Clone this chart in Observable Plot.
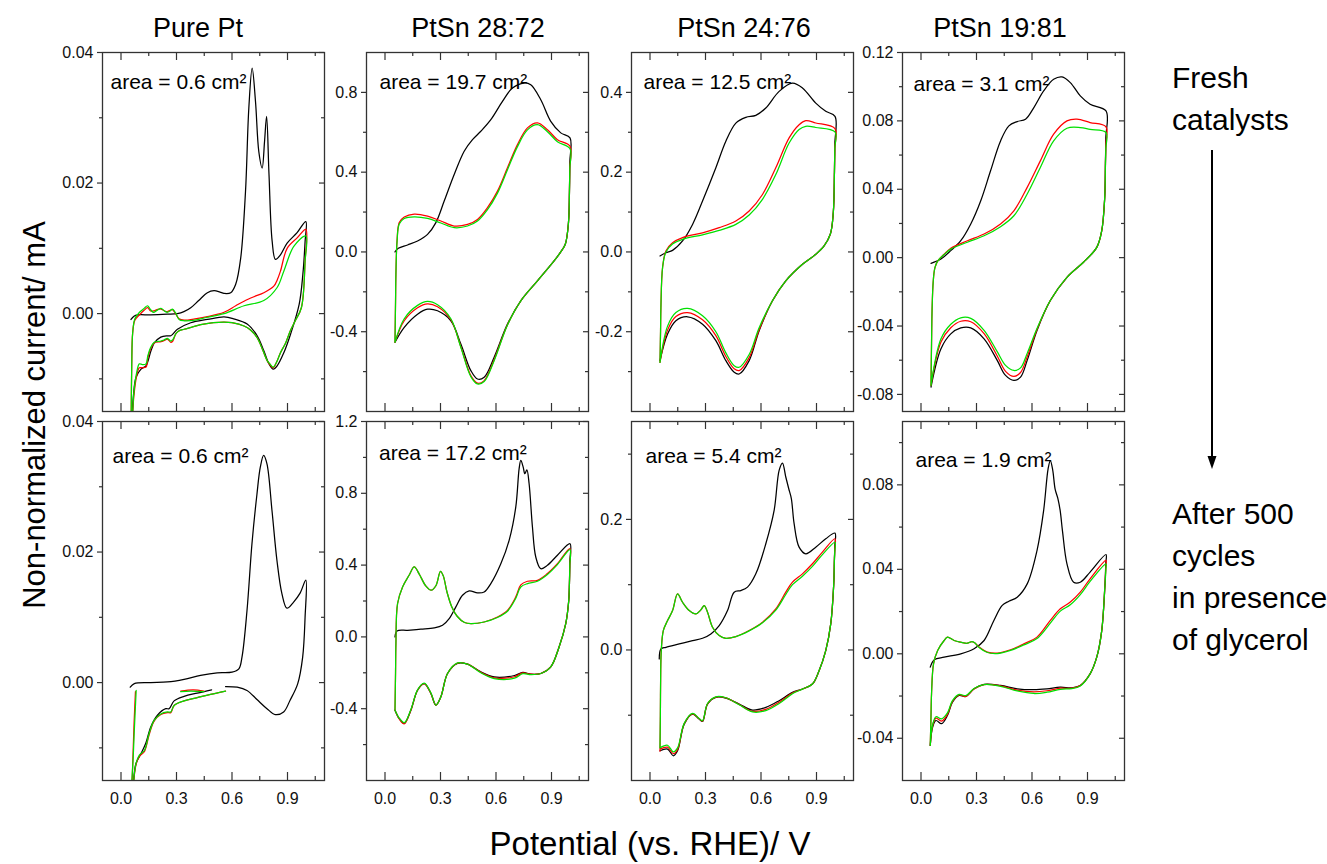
<!DOCTYPE html>
<html><head><meta charset="utf-8">
<script src="https://cdn.jsdelivr.net/npm/d3@7"></script>
<script src="https://cdn.jsdelivr.net/npm/@observablehq/plot@0.6"></script>
<style>
body{margin:0;background:#fff;}
#wrap{position:relative;width:1327px;height:864px;overflow:hidden;font-family:"Liberation Sans",Arial,sans-serif;background:#fff;}
</style></head><body><div id="wrap"></div>
<script>
// ---------- data: [potential V, current mA] ----------
// Pure Pt, fresh
const ptFreshK = [[0.054,-0.0009],[0.07,-0.0004],[0.09,-0.0002],[0.16,-0.0002],[0.25,-0.0001],[0.305,0],[0.34,0.0003],[0.377,0.0009],[0.42,0.002],[0.467,0.0032],[0.503,0.0035],[0.535,0.0033],[0.557,0.0031],[0.593,0.0032],[0.62,0.0045],[0.647,0.0085],[0.673,0.0187],[0.691,0.0315],[0.709,0.0376],[0.727,0.0325],[0.745,0.0248],[0.763,0.0223],[0.776,0.0264],[0.787,0.0302],[0.8,0.0213],[0.817,0.0111],[0.835,0.0083],[0.862,0.009],[0.898,0.0108],[0.952,0.0124],[0.999,0.0141],
  [0.995,0.011],[0.983,0.006],[0.963,0.0014],[0.916,-0.0032],[0.88,-0.006],[0.844,-0.008],[0.823,-0.0085],[0.8,-0.0077],[0.772,-0.0057],[0.736,-0.0034],[0.682,-0.0016],[0.61,-0.0008],[0.557,-0.0005],[0.467,-0.0009],[0.377,-0.0014],[0.305,-0.0024],[0.269,-0.0034],[0.25,-0.0034],[0.215,-0.0036],[0.18,-0.0045],[0.162,-0.0057],[0.135,-0.008],[0.108,-0.0085],[0.081,-0.0098],[0.068,-0.0123],[0.06,-0.016]];
const ptFreshR = [[0.055,-0.016],[0.058,-0.008],[0.063,-0.003],[0.075,-0.001],[0.1,-0.0002],[0.125,0.0005],[0.144,0.0009],[0.16,0.0004],[0.175,0.0004],[0.195,0.0006],[0.216,0.0007],[0.235,0.0004],[0.25,0.0003],[0.265,0.0005],[0.278,0.0006],[0.295,0.0],[0.314,-0.0008],[0.341,-0.001],[0.4,-0.0008],[0.46,-0.0005],[0.557,0.0002],[0.62,0.0012],[0.665,0.0019],[0.72,0.0026],[0.772,0.0032],[0.826,0.0042],[0.845,0.0052],[0.862,0.0065],[0.898,0.01],[0.952,0.0116],[0.999,0.0129],
  [0.995,0.008],[0.975,0.0009],[0.94,-0.0012],[0.916,-0.0026],[0.89,-0.0045],[0.862,-0.006],[0.84,-0.0075],[0.823,-0.0083],[0.805,-0.0078],[0.79,-0.0072],[0.765,-0.0055],[0.736,-0.0037],[0.7,-0.0025],[0.665,-0.0019],[0.6,-0.0014],[0.557,-0.0013],[0.5,-0.0014],[0.431,-0.0017],[0.38,-0.0021],[0.341,-0.0024],[0.31,-0.0027],[0.296,-0.0031],[0.28,-0.0042],[0.269,-0.0044],[0.251,-0.0039],[0.235,-0.0041],[0.216,-0.0043],[0.18,-0.0045],[0.16,-0.0054],[0.145,-0.0068],[0.135,-0.0082],[0.115,-0.0083],[0.099,-0.0083],[0.085,-0.0095],[0.07,-0.0125],[0.062,-0.016]];
const ptFreshG = [[0.055,-0.016],[0.058,-0.008],[0.063,-0.003],[0.075,-0.0008],[0.1,0.0002],[0.125,0.0008],[0.144,0.0012],[0.16,0.0006],[0.175,0.0002],[0.195,0.0005],[0.216,0.0008],[0.235,0.0004],[0.25,0.0002],[0.265,0.0004],[0.278,0.0007],[0.295,0.0001],[0.314,-0.0009],[0.341,-0.0011],[0.4,-0.001],[0.46,-0.0006],[0.557,0.0],[0.665,0.0012],[0.772,0.002],[0.844,0.004],[0.88,0.0065],[0.934,0.0103],[0.999,0.0119],
  [0.995,0.008],[0.975,0.0009],[0.94,-0.0012],[0.916,-0.0026],[0.89,-0.0045],[0.862,-0.006],[0.84,-0.0075],[0.823,-0.0082],[0.805,-0.0077],[0.79,-0.0072],[0.765,-0.0055],[0.736,-0.0037],[0.7,-0.0025],[0.665,-0.0019],[0.6,-0.0014],[0.557,-0.0013],[0.5,-0.0014],[0.431,-0.0017],[0.38,-0.0021],[0.341,-0.0024],[0.31,-0.0027],[0.296,-0.0031],[0.28,-0.004],[0.269,-0.0042],[0.251,-0.0038],[0.235,-0.004],[0.216,-0.0042],[0.18,-0.0044],[0.16,-0.0052],[0.145,-0.0065],[0.135,-0.0077],[0.115,-0.0078],[0.099,-0.0077],[0.085,-0.009],[0.07,-0.012],[0.062,-0.016]];

// PtSn 28:72, fresh
const sn28FreshK = [[0.054,0.0],[0.072,0.018],[0.122,0.035],[0.176,0.055],[0.23,0.088],[0.275,0.147],[0.32,0.255],[0.374,0.388],[0.428,0.505],[0.473,0.563],[0.518,0.605],[0.572,0.663],[0.635,0.755],[0.689,0.822],[0.752,0.847],[0.788,0.838],[0.842,0.763],[0.896,0.655],[0.95,0.597],[1.0,0.572],
  [0.999,0.45],[0.997,0.3],[0.992,0.15],[0.975,0.04],[0.95,0.0],[0.914,-0.045],[0.824,-0.145],[0.734,-0.245],[0.662,-0.362],[0.59,-0.528],[0.536,-0.628],[0.5,-0.637],[0.464,-0.595],[0.41,-0.462],[0.356,-0.345],[0.284,-0.295],[0.23,-0.287],[0.176,-0.312],[0.104,-0.378],[0.054,-0.453]];
const sn28FreshR = [[0.054,-0.453],[0.057,-0.25],[0.059,-0.112],[0.065,0.055],[0.077,0.147],[0.104,0.175],[0.158,0.19],[0.23,0.18],[0.302,0.155],[0.374,0.13],[0.446,0.138],[0.5,0.163],[0.554,0.222],[0.608,0.305],[0.662,0.422],[0.716,0.538],[0.77,0.622],[0.824,0.647],[0.878,0.613],[0.932,0.563],[1.0,0.53],
  [0.999,0.42],[0.997,0.3],[0.992,0.15],[0.975,0.04],[0.95,0.0],[0.914,-0.045],[0.824,-0.145],[0.734,-0.245],[0.662,-0.365],[0.59,-0.54],[0.536,-0.645],[0.5,-0.658],[0.464,-0.62],[0.41,-0.475],[0.356,-0.34],[0.284,-0.275],[0.23,-0.26],[0.176,-0.28],[0.104,-0.345],[0.054,-0.453]];
const sn28FreshG = [[0.054,-0.453],[0.057,-0.25],[0.059,-0.112],[0.065,0.05],[0.077,0.14],[0.104,0.168],[0.158,0.176],[0.23,0.168],[0.302,0.145],[0.374,0.122],[0.446,0.13],[0.5,0.155],[0.554,0.212],[0.608,0.295],[0.662,0.412],[0.716,0.528],[0.77,0.612],[0.824,0.638],[0.878,0.603],[0.932,0.553],[1.0,0.518],
  [0.999,0.42],[0.997,0.3],[0.992,0.15],[0.975,0.04],[0.95,0.0],[0.914,-0.045],[0.824,-0.145],[0.734,-0.245],[0.662,-0.366],[0.59,-0.545],[0.536,-0.65],[0.5,-0.662],[0.464,-0.625],[0.41,-0.478],[0.356,-0.335],[0.284,-0.265],[0.23,-0.248],[0.176,-0.268],[0.104,-0.335],[0.054,-0.453]];

// PtSn 24:76, fresh
const sn24FreshK = [[0.054,-0.01],[0.086,-0.002],[0.122,0.004],[0.176,0.0275],[0.23,0.069],[0.284,0.1275],[0.356,0.211],[0.41,0.2775],[0.464,0.323],[0.518,0.3375],[0.572,0.3425],[0.626,0.361],[0.698,0.4025],[0.77,0.423],[0.824,0.411],[0.896,0.373],[0.95,0.3525],[1.0,0.34],
  [0.999,0.27],[0.997,0.2],[0.991,0.1],[0.975,0.045],[0.941,0.015],[0.896,-0.006],[0.824,-0.031],[0.734,-0.0725],[0.662,-0.1225],[0.59,-0.1975],[0.536,-0.2725],[0.482,-0.306],[0.455,-0.3017],[0.41,-0.2725],[0.356,-0.2225],[0.284,-0.181],[0.203,-0.1625],[0.14,-0.1725],[0.095,-0.206],[0.054,-0.2725]];
const sn24FreshR = [[0.054,-0.277],[0.057,-0.2],[0.059,-0.139],[0.068,-0.039],[0.086,0.0025],[0.122,0.023],[0.176,0.036],[0.284,0.048],[0.374,0.061],[0.464,0.0775],[0.536,0.1025],[0.608,0.144],[0.68,0.211],[0.752,0.286],[0.806,0.319],[0.842,0.329],[0.896,0.3233],[1.0,0.309],
  [0.999,0.26],[0.997,0.2],[0.991,0.1],[0.975,0.045],[0.941,0.015],[0.896,-0.006],[0.824,-0.031],[0.734,-0.0725],[0.662,-0.1225],[0.59,-0.195],[0.536,-0.265],[0.482,-0.2975],[0.455,-0.293],[0.41,-0.262],[0.356,-0.21],[0.284,-0.17],[0.203,-0.152],[0.14,-0.162],[0.095,-0.196],[0.054,-0.277]];
const sn24FreshG = [[0.054,-0.277],[0.057,-0.2],[0.059,-0.139],[0.068,-0.039],[0.086,0.0],[0.122,0.02],[0.176,0.0317],[0.284,0.043],[0.374,0.054],[0.464,0.069],[0.536,0.0925],[0.608,0.132],[0.68,0.194],[0.752,0.273],[0.806,0.307],[0.842,0.315],[0.896,0.312],[1.0,0.301],
  [0.999,0.26],[0.997,0.2],[0.991,0.1],[0.975,0.045],[0.941,0.015],[0.896,-0.006],[0.824,-0.031],[0.734,-0.0725],[0.662,-0.1225],[0.59,-0.19],[0.536,-0.257],[0.482,-0.289],[0.455,-0.285],[0.41,-0.253],[0.356,-0.2],[0.284,-0.16],[0.203,-0.1417],[0.14,-0.152],[0.095,-0.186],[0.054,-0.277]];

// PtSn 19:81, fresh
const sn19FreshK = [[0.054,-0.0033],[0.108,-0.0008],[0.161,0.0041],[0.215,0.0099],[0.269,0.0197],[0.323,0.0333],[0.376,0.0508],[0.43,0.0683],[0.475,0.0771],[0.52,0.0796],[0.565,0.081],[0.61,0.0878],[0.663,0.0975],[0.717,0.1043],[0.762,0.1057],[0.807,0.1024],[0.861,0.0946],[0.914,0.0897],[1.0,0.0858],
  [0.999,0.07],[0.997,0.055],[0.993,0.035],[0.977,0.0158],[0.95,0.006],[0.878,-0.0027],[0.789,-0.0115],[0.699,-0.0251],[0.627,-0.0426],[0.574,-0.0601],[0.538,-0.0699],[0.502,-0.0718],[0.457,-0.0689],[0.412,-0.0601],[0.341,-0.0475],[0.269,-0.0411],[0.215,-0.0411],[0.161,-0.0446],[0.108,-0.0533],[0.054,-0.0757]];
const sn19FreshR = [[0.054,-0.0747],[0.057,-0.05],[0.06,-0.03],[0.066,-0.014],[0.075,-0.006],[0.09,-0.002],[0.125,0.002],[0.161,0.0055],[0.251,0.0099],[0.341,0.0138],[0.43,0.0197],[0.502,0.0274],[0.574,0.0411],[0.645,0.0566],[0.717,0.0722],[0.789,0.08],[0.843,0.081],[0.914,0.079],[1.0,0.0765],
  [0.999,0.066],[0.997,0.055],[0.993,0.035],[0.977,0.0158],[0.95,0.006],[0.878,-0.0027],[0.789,-0.0115],[0.699,-0.0251],[0.627,-0.042],[0.574,-0.058],[0.538,-0.0672],[0.502,-0.0695],[0.457,-0.0665],[0.412,-0.0575],[0.341,-0.0445],[0.269,-0.0375],[0.215,-0.0372],[0.161,-0.041],[0.108,-0.0494],[0.054,-0.0747]];
const sn19FreshG = [[0.054,-0.0747],[0.057,-0.05],[0.06,-0.03],[0.066,-0.014],[0.075,-0.006],[0.09,-0.002],[0.125,0.0018],[0.161,0.005],[0.251,0.009],[0.341,0.0128],[0.43,0.0181],[0.502,0.0245],[0.574,0.0372],[0.645,0.0527],[0.717,0.0683],[0.789,0.0757],[0.861,0.0761],[0.914,0.075],[1.0,0.0732],
  [0.999,0.064],[0.997,0.055],[0.993,0.035],[0.977,0.0158],[0.95,0.006],[0.878,-0.0027],[0.789,-0.0115],[0.699,-0.0251],[0.627,-0.0415],[0.574,-0.056],[0.538,-0.0645],[0.502,-0.066],[0.457,-0.063],[0.412,-0.055],[0.341,-0.0425],[0.269,-0.0355],[0.215,-0.0352],[0.161,-0.039],[0.108,-0.0475],[0.054,-0.0747]];

// Pure Pt, after 500 cycles (null = gap in the record)
const ptAgedK = [[0.05,-0.0007],[0.072,-0.00015],[0.161,0],[0.251,0.0001],[0.341,0.0005],[0.43,0.0011],[0.52,0.0015],[0.6,0.0016],[0.637,0.0021],[0.654,0.0039],[0.681,0.011],[0.708,0.0213],[0.735,0.0289],[0.753,0.033],[0.771,0.0348],[0.789,0.0335],[0.816,0.0264],[0.843,0.0187],[0.87,0.0136],[0.897,0.0114],[0.932,0.0123],[0.968,0.0137],[0.999,0.0157],
  [0.995,0.01],[0.982,0.0039],[0.955,-0.0002],[0.914,-0.0027],[0.879,-0.0045],[0.834,-0.0049],[0.789,-0.004],[0.735,-0.0026],[0.681,-0.0012],[0.628,-0.0007],[0.565,-0.0006],[0.53,null],
  [0.49,-0.0011],[0.412,-0.0016],[0.341,-0.0021],[0.287,-0.0028],[0.26,-0.004],[0.242,-0.004],[0.197,-0.005],[0.161,-0.0068],[0.134,-0.0093],[0.108,-0.0109],[0.081,-0.0124],[0.068,-0.015],[0.065,-0.017]];
const ptAgedR = [[0.058,-0.017],[0.065,-0.011],[0.071,-0.006],[0.078,-0.0014],[0.2,null],
  [0.323,-0.0013],[0.39,-0.0011],[0.448,-0.0013],[0.5,null],
  [0.565,-0.0013],[0.484,-0.0018],[0.412,-0.0023],[0.341,-0.0028],[0.287,-0.0035],[0.269,-0.0046],[0.251,-0.0046],[0.215,-0.0049],[0.179,-0.0059],[0.152,-0.008],[0.126,-0.0106],[0.099,-0.0113],[0.081,-0.0126],[0.063,-0.017]];
const ptAgedG = [[0.054,-0.017],[0.065,-0.012],[0.072,-0.0073],[0.082,-0.0012],[0.2,null],
  [0.323,-0.0014],[0.377,-0.0013],[0.448,-0.0014],[0.5,null],
  [0.565,-0.0013],[0.484,-0.0018],[0.412,-0.0023],[0.341,-0.0028],[0.287,-0.0035],[0.269,-0.0045],[0.251,-0.0045],[0.215,-0.0048],[0.179,-0.0058],[0.152,-0.0078],[0.126,-0.0104],[0.099,-0.0111],[0.081,-0.0124],[0.063,-0.017]];

// PtSn 28:72, after 500 cycles
const sn28AgedK = [[0.054,0],[0.065,0.033],[0.122,0.037],[0.194,0.043],[0.266,0.05],[0.311,0.065],[0.347,0.102],[0.383,0.167],[0.419,0.232],[0.455,0.256],[0.5,0.245],[0.536,0.25],[0.572,0.297],[0.626,0.408],[0.671,0.538],[0.707,0.724],[0.725,0.937],[0.734,0.983],[0.747,0.946],[0.756,0.909],[0.767,0.931],[0.779,0.853],[0.797,0.612],[0.815,0.445],[0.842,0.38],[0.878,0.399],[0.932,0.455],[1.0,0.519],
  [0.999,0.42],[0.997,0.3],[0.993,0.2],[0.977,0.074],[0.941,-0.056],[0.896,-0.167],[0.842,-0.204],[0.788,-0.208],[0.745,-0.198],[0.7,-0.215],[0.59,-0.223],[0.518,-0.195],[0.446,-0.152],[0.392,-0.148],[0.338,-0.204],[0.302,-0.334],[0.275,-0.38],[0.248,-0.315],[0.212,-0.26],[0.176,-0.297],[0.14,-0.408],[0.104,-0.482],[0.077,-0.455],[0.054,-0.408]];
const sn28AgedR = [[0.054,-0.408],[0.057,-0.2],[0.059,-0.037],[0.068,0.186],[0.095,0.278],[0.131,0.345],[0.158,0.39],[0.185,0.35],[0.22,0.285],[0.25,0.26],[0.275,0.285],[0.3,0.365],[0.315,0.34],[0.335,0.25],[0.36,0.17],[0.39,0.115],[0.43,0.08],[0.464,0.074],[0.536,0.083],[0.608,0.111],[0.662,0.148],[0.707,0.223],[0.734,0.29],[0.77,0.31],[0.824,0.315],[0.878,0.353],[0.932,0.408],[1.0,0.492],
  [0.999,0.4],[0.997,0.3],[0.993,0.2],[0.977,0.074],[0.941,-0.056],[0.896,-0.167],[0.842,-0.204],[0.788,-0.208],[0.745,-0.2],[0.7,-0.222],[0.59,-0.228],[0.518,-0.197],[0.446,-0.152],[0.392,-0.146],[0.338,-0.204],[0.302,-0.334],[0.275,-0.38],[0.248,-0.315],[0.212,-0.26],[0.176,-0.297],[0.14,-0.408],[0.104,-0.485],[0.077,-0.457],[0.054,-0.408]];
const sn28AgedG = [[0.054,-0.408],[0.057,-0.2],[0.059,-0.037],[0.068,0.186],[0.095,0.278],[0.131,0.345],[0.158,0.39],[0.185,0.35],[0.22,0.285],[0.25,0.26],[0.275,0.285],[0.3,0.365],[0.315,0.34],[0.335,0.25],[0.36,0.17],[0.39,0.115],[0.43,0.08],[0.464,0.074],[0.536,0.083],[0.608,0.108],[0.662,0.143],[0.707,0.215],[0.734,0.278],[0.77,0.297],[0.824,0.31],[0.878,0.348],[0.932,0.403],[1.0,0.486],
  [0.999,0.4],[0.997,0.3],[0.993,0.2],[0.977,0.074],[0.941,-0.056],[0.896,-0.167],[0.842,-0.204],[0.788,-0.21],[0.745,-0.205],[0.7,-0.23],[0.59,-0.232],[0.518,-0.2],[0.446,-0.152],[0.392,-0.145],[0.338,-0.204],[0.302,-0.334],[0.275,-0.38],[0.248,-0.312],[0.212,-0.258],[0.176,-0.295],[0.14,-0.405],[0.104,-0.478],[0.077,-0.452],[0.054,-0.408]];

// PtSn 24:76, after 500 cycles
const sn24AgedK = [[0.05,-0.0138],[0.059,0.0015],[0.086,0.0041],[0.158,0.0092],[0.23,0.0143],[0.284,0.0179],[0.329,0.0246],[0.374,0.0373],[0.419,0.0604],[0.455,0.0885],[0.491,0.091],[0.527,0.0962],[0.572,0.1166],[0.626,0.1627],[0.671,0.2138],[0.698,0.2752],[0.716,0.2864],[0.734,0.265],[0.75,0.247],[0.764,0.232],[0.779,0.1934],[0.806,0.1575],[0.842,0.1473],[0.896,0.1575],[0.95,0.1703],[1.0,0.179],
  [0.999,0.16],[0.997,0.14],[0.993,0.1],[0.977,0.0399],[0.95,-0.001],[0.914,-0.0317],[0.878,-0.0522],[0.824,-0.0598],[0.77,-0.065],[0.698,-0.0777],[0.626,-0.088],[0.554,-0.0921],[0.482,-0.0829],[0.41,-0.0737],[0.356,-0.0726],[0.311,-0.0829],[0.284,-0.1095],[0.266,-0.1059],[0.23,-0.0982],[0.185,-0.1136],[0.149,-0.1545],[0.126,-0.1621],[0.095,-0.1519],[0.054,-0.1545]];
const sn24AgedR = [[0.054,-0.155],[0.056,-0.1],[0.058,-0.03],[0.061,-0.001],[0.072,0.0297],[0.095,0.045],[0.122,0.0604],[0.149,0.0859],[0.176,0.0731],[0.212,0.0604],[0.248,0.0552],[0.275,0.0614],[0.293,0.068],[0.311,0.0578],[0.338,0.0348],[0.374,0.022],[0.41,0.0179],[0.464,0.0205],[0.536,0.0297],[0.608,0.0425],[0.68,0.0629],[0.734,0.0885],[0.77,0.1038],[0.824,0.1166],[0.878,0.132],[0.932,0.1499],[1.0,0.1703],
  [0.999,0.155],[0.997,0.14],[0.993,0.1],[0.977,0.0399],[0.95,-0.001],[0.914,-0.0317],[0.878,-0.0522],[0.824,-0.0598],[0.77,-0.066],[0.698,-0.08],[0.626,-0.091],[0.554,-0.094],[0.482,-0.0835],[0.41,-0.0735],[0.356,-0.0722],[0.311,-0.0825],[0.284,-0.109],[0.266,-0.1055],[0.23,-0.0978],[0.185,-0.113],[0.149,-0.1525],[0.126,-0.159],[0.095,-0.149],[0.054,-0.152]];
const sn24AgedG = [[0.054,-0.15],[0.056,-0.1],[0.058,-0.03],[0.061,-0.001],[0.072,0.0297],[0.095,0.045],[0.122,0.0604],[0.149,0.0859],[0.176,0.0731],[0.212,0.0604],[0.248,0.0552],[0.275,0.0614],[0.293,0.068],[0.311,0.0578],[0.338,0.0348],[0.374,0.022],[0.41,0.0179],[0.464,0.0205],[0.536,0.0292],[0.608,0.0415],[0.68,0.061],[0.734,0.085],[0.77,0.1],[0.824,0.113],[0.878,0.128],[0.932,0.146],[1.0,0.165],
  [0.999,0.152],[0.997,0.14],[0.993,0.1],[0.977,0.0399],[0.95,-0.001],[0.914,-0.0317],[0.878,-0.0522],[0.824,-0.06],[0.77,-0.067],[0.698,-0.082],[0.626,-0.093],[0.554,-0.095],[0.482,-0.084],[0.41,-0.0732],[0.356,-0.0718],[0.311,-0.082],[0.284,-0.1085],[0.266,-0.105],[0.23,-0.0972],[0.185,-0.1125],[0.149,-0.15],[0.126,-0.156],[0.095,-0.146],[0.054,-0.15]];

// PtSn 19:81, after 500 cycles
const sn19AgedK = [[0.05,-0.0063],[0.072,-0.0028],[0.125,-0.0016],[0.215,0],[0.287,0.0024],[0.341,0.0063],[0.394,0.0158],[0.439,0.0229],[0.475,0.0249],[0.52,0.0268],[0.574,0.0331],[0.627,0.0489],[0.663,0.0679],[0.687,0.0876],[0.699,0.0915],[0.712,0.087],[0.725,0.078],[0.74,0.0735],[0.752,0.068],[0.765,0.058],[0.789,0.0426],[0.825,0.0339],[0.861,0.0339],[0.914,0.0387],[1.0,0.047],
  [0.999,0.043],[0.997,0.038],[0.994,0.032],[0.977,0.011],[0.95,-0.0016],[0.914,-0.0095],[0.861,-0.015],[0.816,-0.0161],[0.753,-0.0158],[0.681,-0.0166],[0.61,-0.017],[0.52,-0.0166],[0.43,-0.015],[0.341,-0.0145],[0.287,-0.0166],[0.242,-0.0202],[0.206,-0.0197],[0.17,-0.0229],[0.143,-0.0292],[0.111,-0.0331],[0.081,-0.0316],[0.063,-0.0347],[0.05,-0.0434]];
const sn19AgedR = [[0.05,-0.0434],[0.054,-0.03],[0.057,-0.0189],[0.068,-0.0047],[0.09,0.0016],[0.125,0.0063],[0.143,0.0079],[0.179,0.0063],[0.215,0.0055],[0.251,0.005],[0.275,0.0058],[0.29,0.0052],[0.314,0.0032],[0.359,0.0008],[0.412,0.0003],[0.484,0.0019],[0.556,0.0047],[0.627,0.0079],[0.699,0.0158],[0.753,0.0213],[0.807,0.0245],[0.861,0.0292],[0.914,0.0355],[1.0,0.0442],
  [0.999,0.041],[0.997,0.037],[0.994,0.032],[0.977,0.011],[0.95,-0.0016],[0.914,-0.0095],[0.861,-0.015],[0.816,-0.0163],[0.753,-0.0163],[0.681,-0.0175],[0.61,-0.018],[0.52,-0.0172],[0.43,-0.0152],[0.341,-0.0146],[0.287,-0.0166],[0.242,-0.0202],[0.206,-0.0195],[0.17,-0.0226],[0.143,-0.0287],[0.111,-0.0319],[0.081,-0.0305],[0.063,-0.034],[0.05,-0.0434]];
const sn19AgedG = [[0.05,-0.0434],[0.054,-0.03],[0.057,-0.0189],[0.068,-0.0047],[0.09,0.0016],[0.125,0.0063],[0.143,0.0079],[0.179,0.0063],[0.215,0.0055],[0.251,0.005],[0.275,0.0058],[0.29,0.0052],[0.314,0.003],[0.359,0.0006],[0.412,0.0001],[0.484,0.0016],[0.556,0.0042],[0.627,0.0072],[0.699,0.0145],[0.753,0.0202],[0.807,0.0232],[0.861,0.028],[0.914,0.0343],[1.0,0.0426],
  [0.999,0.04],[0.997,0.036],[0.994,0.032],[0.977,0.011],[0.95,-0.0016],[0.914,-0.0095],[0.861,-0.0152],[0.816,-0.0165],[0.753,-0.0168],[0.681,-0.0182],[0.61,-0.0188],[0.52,-0.0176],[0.43,-0.0154],[0.341,-0.0146],[0.287,-0.0164],[0.242,-0.0198],[0.206,-0.0192],[0.17,-0.0222],[0.143,-0.028],[0.111,-0.0308],[0.081,-0.0298],[0.063,-0.0335],[0.05,-0.0434]];

// ---------- labels and ticks ----------
const columnTitles = ["Pure Pt", "PtSn 28:72", "PtSn 24:76", "PtSn 19:81"];
const areaFresh = ["area = 0.6 cm²", "area = 19.7 cm²", "area = 12.5 cm²", "area = 3.1 cm²"];
const areaAged  = ["area = 0.6 cm²", "area = 17.2 cm²", "area = 5.4 cm²", "area = 1.9 cm²"];
const rightTextTop = ["Fresh", "catalysts"];
const rightTextBottom = ["After 500", "cycles", "in presence", "of glycerol"];
const yAxisTitle = "Non-normalized current/ mA";
const xAxisTitle = "Potential (vs. RHE)/ V";
const xDomain = [-0.1, 1.1];
const xMajor = [0, 0.3, 0.6, 0.9];
const xMinor = [0.15, 0.45, 0.75, 1.05];

const yDomains = {
  ptFresh: [-0.015, 0.04], sn28Fresh: [-0.8, 1.0], sn24Fresh: [-0.4, 0.5], sn19Fresh: [-0.09, 0.12],
  ptAged: [-0.015, 0.04], sn28Aged: [-0.8, 1.2], sn24Aged: [-0.2, 0.35], sn19Aged: [-0.06, 0.11]
};
const yMajorPt = [0, 0.02, 0.04], yMinorPt = [-0.01, 0.01, 0.03];
const yMajor28F = [-0.4, 0, 0.4, 0.8], yMinor28F = [-0.6, -0.2, 0.2, 0.6];
const yMajor28A = [-0.4, 0, 0.4, 0.8, 1.2], yMinor28A = [-0.6, -0.2, 0.2, 0.6, 1.0];
const yMajor24F = [-0.2, 0, 0.2, 0.4], yMinor24F = [-0.3, -0.1, 0.1, 0.3];
const yMajor24A = [0, 0.2], yMinor24A = [-0.1, 0.1, 0.3];
const yMajor19F = [-0.08, -0.04, 0, 0.04, 0.08, 0.12], yMinor19F = [-0.06, -0.02, 0.02, 0.06, 0.1];
const yMajor19A = [-0.04, 0, 0.04, 0.08], yMinor19A = [-0.02, 0.02, 0.06, 0.1];

// ---------- layout ----------
const colLeft = [101.7, 365.7, 630.7, 901.7];
const rowTop = [51.7, 421];
const W = 222, H = 359;
const mL = 60, mR = 12, mT = 12, mB = 34;
const seriesColors = ["#000000", "#ff0000", "#00e000"];
const frameColor = "#333333";

const panels = [
  {r:0,c:0,y:yDomains.ptFresh, maj:yMajorPt, min:yMinorPt, dec:2, area:areaFresh[0], adx:8, ady:22, s:[ptFreshK, ptFreshR, ptFreshG]},
  {r:0,c:1,y:yDomains.sn28Fresh, maj:yMajor28F, min:yMinor28F, dec:1, area:areaFresh[1], adx:13, ady:22, s:[sn28FreshK, sn28FreshR, sn28FreshG]},
  {r:0,c:2,y:yDomains.sn24Fresh, maj:yMajor24F, min:yMinor24F, dec:1, area:areaFresh[2], adx:12, ady:22, s:[sn24FreshK, sn24FreshR, sn24FreshG]},
  {r:0,c:3,y:yDomains.sn19Fresh, maj:yMajor19F, min:yMinor19F, dec:2, area:areaFresh[3], adx:11, ady:23.5, s:[sn19FreshK, sn19FreshR, sn19FreshG]},
  {r:1,c:0,y:yDomains.ptAged, maj:yMajorPt, min:yMinorPt, dec:2, area:areaAged[0], adx:10, ady:27, s:[ptAgedK, ptAgedR, ptAgedG]},
  {r:1,c:1,y:yDomains.sn28Aged, maj:yMajor28A, min:yMinor28A, dec:1, area:areaAged[1], adx:12.5, ady:24, s:[sn28AgedK, sn28AgedR, sn28AgedG]},
  {r:1,c:2,y:yDomains.sn24Aged, maj:yMajor24A, min:yMinor24A, dec:1, area:areaAged[2], adx:14, ady:27, s:[sn24AgedK, sn24AgedR, sn24AgedG]},
  {r:1,c:3,y:yDomains.sn19Aged, maj:yMajor19A, min:yMinor19A, dec:2, area:areaAged[3], adx:13, ady:30.5, s:[sn19AgedK, sn19AgedR, sn19AgedG]}
];

const wrap = document.getElementById("wrap");
const fmt = dec => d => d3.format(`.${dec}f`)(d).replace("\u2212", "-");

for (const p of panels) {
  const marks = [];
  // ticks: left outward, right/top/bottom inward
  marks.push(Plot.tickY(p.maj, {y: d => d, insetLeft: -5, insetRight: W, stroke: frameColor, strokeWidth: 1.2}));
  marks.push(Plot.tickY(p.min, {y: d => d, insetLeft: -3, insetRight: W, stroke: frameColor, strokeWidth: 1.2}));
  marks.push(Plot.tickY(p.maj, {y: d => d, insetLeft: W - 5, stroke: frameColor, strokeWidth: 1.2}));
  marks.push(Plot.tickY(p.min, {y: d => d, insetLeft: W - 3, stroke: frameColor, strokeWidth: 1.2}));
  marks.push(Plot.tickX(xMajor, {x: d => d, insetTop: H - 8, stroke: frameColor, strokeWidth: 1.2}));
  marks.push(Plot.tickX(xMinor, {x: d => d, insetTop: H - 4, stroke: frameColor, strokeWidth: 1.2}));
  marks.push(Plot.tickX(xMajor, {x: d => d, insetBottom: H - 8, stroke: frameColor, strokeWidth: 1.2}));
  marks.push(Plot.tickX(xMinor, {x: d => d, insetBottom: H - 4, stroke: frameColor, strokeWidth: 1.2}));
  // tick labels
  marks.push(Plot.axisY(p.maj, {anchor: "left", tickSize: 0, tickPadding: 9, tickFormat: fmt(p.dec), label: null, fill: "#111"}));
  if (p.r === 1) {
    marks.push(Plot.axisX(xMajor, {anchor: "bottom", tickSize: 0, tickPadding: 12, tickFormat: fmt(1), label: null, fill: "#111"}));
  }
  // curves
  p.s.forEach((data, i) => {
    marks.push(Plot.line(data, {x: d => d[0], y: d => d[1], stroke: seriesColors[i], strokeWidth: 1.25, curve: "catmull-rom", clip: true}));
  });
  marks.push(Plot.frame({stroke: frameColor, strokeWidth: 1.3}));
  marks.push(Plot.text([p.area], {text: d => d, frameAnchor: "top-left", dx: p.adx, dy: p.ady, textAnchor: "start", lineAnchor: "top", fontSize: 21, fill: "#000"}));

  const svg = Plot.plot({
    width: mL + W + mR, height: mT + H + mB,
    marginLeft: mL, marginRight: mR, marginTop: mT, marginBottom: mB,
    x: p.r === 1 ? {domain: xDomain} : {domain: xDomain, axis: null},
    y: {domain: p.y},
    style: {background: "transparent", overflow: "visible", fontSize: "16px", fontFamily: "'Liberation Sans', Arial, sans-serif", color: "#111"},
    marks
  });
  svg.style.position = "absolute";
  svg.style.left = (colLeft[p.c] - mL) + "px";
  svg.style.top = (rowTop[p.r] - mT) + "px";
  svg.style.maxWidth = "none";
  wrap.appendChild(svg);
}

// ---------- annotations (titles, axis titles, side notes) ----------
const ov = d3.select(wrap).append("svg")
  .attr("width", 1327).attr("height", 864)
  .style("position", "absolute").style("left", 0).style("top", 0)
  .style("font-family", "'Liberation Sans', Arial, sans-serif");
const titleX = [198, 478, 744, 1000];
columnTitles.forEach((t, i) => ov.append("text").attr("x", titleX[i]).attr("y", 37).attr("text-anchor", "middle").attr("font-size", 27).attr("fill", "#000").text(t));
ov.append("text").attr("transform", "translate(45,415) rotate(-90)").attr("text-anchor", "middle").attr("font-size", 31).attr("fill", "#000").text(yAxisTitle);
ov.append("text").attr("x", 650).attr("y", 855).attr("text-anchor", "middle").attr("font-size", 33).attr("fill", "#000").text(xAxisTitle);
rightTextTop.forEach((t, i) => ov.append("text").attr("x", 1172).attr("y", 88 + i * 42).attr("font-size", 30).attr("fill", "#000").text(t));
rightTextBottom.forEach((t, i) => ov.append("text").attr("x", 1172).attr("y", 524 + i * 42).attr("font-size", 30).attr("fill", "#000").text(t));
ov.append("line").attr("x1", 1212).attr("x2", 1212).attr("y1", 150).attr("y2", 458).attr("stroke", "#000").attr("stroke-width", 2);
ov.append("path").attr("d", "M1207.5,456 L1216.5,456 L1212,469 Z").attr("fill", "#000");
</script></body></html>
